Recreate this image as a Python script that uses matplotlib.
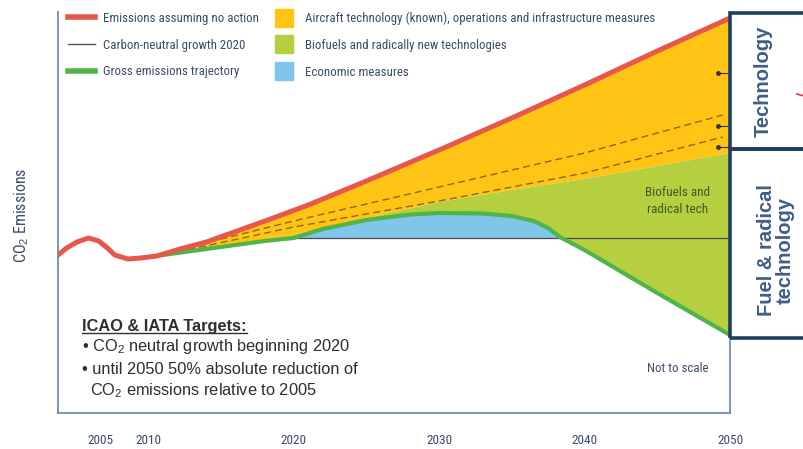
import numpy as np
import matplotlib
matplotlib.use("Agg")
import matplotlib.pyplot as plt
from matplotlib.lines import Line2D
from matplotlib.patches import Rectangle

plt.rcParams['font.family'] = ['Roboto Condensed', 'DejaVu Sans']
plt.rcParams['mathtext.fontset'] = 'custom'
plt.rcParams['mathtext.rm'] = 'Liberation Sans'

# schematic data (arbitrary CO2 units)
years_red = [2003.8, 2004.4, 2005.1, 2005.9, 2006.6, 2007.2, 2007.7, 2008.6, 2009.5,
             2010.6, 2012.2, 2014, 2016.3, 2018.6, 2021, 2025, 2030, 2035, 2040, 2045, 2050]
no_action = [158, 165, 171, 175, 172, 165, 158, 154, 155,
             157, 164, 171, 183, 195, 208, 232, 263, 295, 328, 362, 395]

years_bound = [2010, 2015, 2020, 2025, 2030, 2035, 2040, 2045, 2050]
tech_bound = [156, 167, 178, 195, 211, 223, 234, 247, 260]

years_gross = [2010, 2012, 2015, 2018, 2020, 2022, 2025, 2028, 2030, 2033, 2035,
               2036.5, 2037.5, 2038.3, 2040, 2045, 2050]
gross = [156, 160, 166, 172, 175, 184, 193, 198.5, 200, 199.5, 197,
         192, 185, 176, 163, 120, 78]

years_dash = [2012, 2020, 2030, 2040, 2049.5]
dash_upper = [163, 192, 226, 260, 298]
dash_lower = [161, 186, 212, 240, 276]

neutral_years = [2020, 2050]
neutral_level = 175

pointer_levels = [340, 287, 266]

tick_pos = [2006.7, 2010, 2020, 2030, 2040, 2050]
tick_labels = ['2005', '2010', '2020', '2030', '2040', '2050']

RED = '#e8574c'
ORANGE = '#ffc414'
LGREEN = '#b5cf3f'
BLUE = '#80c5ea'
GREEN = '#4fb54a'
TXT = '#3a4c6c'
SPINE = '#6a8db6'
NAVY = '#1d3d62'

fig = plt.figure(figsize=(8.04, 4.49), dpi=100)
ax = fig.add_axes([58 / 804, 1 - 413 / 449, 672 / 804, 401 / 449])
ax.set_xlim(2003.8, 2050)
ax.set_ylim(0, 401)

yr = np.array(years_red)
nr = np.array(no_action)
mask = yr >= 2010
ax.fill(np.concatenate([[2010], yr[mask], years_bound[::-1]]),
        np.concatenate([[156], nr[mask], tech_bound[::-1]]),
        color=ORANGE, lw=0, zorder=1)
ax.fill(np.concatenate([years_bound, years_gross[::-1]]),
        np.concatenate([tech_bound, gross[::-1]]),
        color=LGREEN, lw=0, zorder=1)
g = np.array(gross)
gy = np.array(years_gross)
ax.fill_between(gy, g, neutral_level, where=(gy >= 2020) & (g >= neutral_level),
                interpolate=True, color=BLUE, lw=0, zorder=2)

ax.plot(years_dash, dash_upper, color='#8a6a18', lw=1, ls=(0, (5, 3)), zorder=3)
ax.plot(years_dash, dash_lower, color='#8a6a18', lw=1, ls=(0, (5, 3)), zorder=3)
ax.plot(neutral_years, [neutral_level] * 2, color='#4a4a4a', lw=0.9, zorder=4)
ax.plot(years_gross, gross, color=GREEN, lw=3, zorder=5, solid_capstyle='round',
        solid_joinstyle='round')
ax.plot(years_red, no_action, color=RED, lw=3.6, zorder=6, solid_capstyle='round',
        solid_joinstyle='round')

for lv in pointer_levels:
    ax.plot([2049.2, 2050], [lv, lv], color='#333333', lw=0.8, zorder=6)
    ax.plot([2049.2], [lv], 'o', color='#333333', ms=2.5, zorder=6)

ax.spines['top'].set_visible(False)
for side in ['left', 'bottom', 'right']:
    ax.spines[side].set_color(SPINE)
    ax.spines[side].set_linewidth(1.3)
ax.set_yticks([])
ax.set_xticks(tick_pos)
ax.set_xticklabels(tick_labels, color=TXT, fontsize=9.5)
ax.tick_params(axis='x', length=0, pad=15)

fig.text(22 / 804, 1 - 215 / 449, 'CO$_2$ Emissions', rotation=90, ha='center',
         va='center', color=TXT, fontsize=11.5)

# legend
h1 = [Line2D([], [], color=RED, lw=4),
      Line2D([], [], color='#555555', lw=1),
      Line2D([], [], color=GREEN, lw=4)]
l1 = ['Emissions assuming no action', 'Carbon-neutral growth 2020', 'Gross emissions trajectory']
h2 = [Line2D([], [], marker='s', ms=13, color=c, ls='none') for c in (ORANGE, LGREEN, BLUE)]
l2 = ['Aircraft technology (known), operations and infrastructure measures',
      'Biofuels and radically new technologies', 'Economic measures']
leg1 = ax.legend(h1, l1, loc='upper left', bbox_to_anchor=(10 / 672, 1.0),
                 frameon=False, fontsize=9.3, handlelength=2.1, handletextpad=0.6,
                 labelspacing=1.05, borderpad=0, borderaxespad=0, labelcolor=TXT)
ax.add_artist(leg1)
ax.legend(h2, l2, loc='upper left', bbox_to_anchor=(212 / 672, 1.0),
          frameon=False, fontsize=9.3, handlelength=2.1, handletextpad=0.6,
          labelspacing=1.05, borderpad=0, borderaxespad=0, labelcolor=TXT)

# targets text
kw = dict(transform=fig.transFigure, family='Liberation Sans', color='#2e2e2e', va='center')
t = fig.text(82 / 804, 1 - 326 / 449, 'ICAO & IATA Targets:', fontsize=11.8,
             weight='bold', **kw)
fig.text(82 / 804, 1 - 347 / 449, '• CO$_2$ neutral growth beginning 2020', fontsize=11.8, **kw)
fig.text(82 / 804, 1 - 369 / 449, '• until 2050 50% absolute reduction of', fontsize=11.8, **kw)
fig.text(90 / 804, 1 - 391 / 449, 'CO$_2$ emissions relative to 2005', fontsize=11.8, **kw)
fig.canvas.draw()
bb = t.get_window_extent().transformed(fig.transFigure.inverted())
fig.add_artist(Line2D([bb.x0, bb.x1], [bb.y0 + 0.002, bb.y0 + 0.002],
                      color='#2e2e2e', lw=1, transform=fig.transFigure))

ax.text(2046.4, 212, 'Biofuels and\nradical tech', ha='center', va='center',
        color='#3d5a28', fontsize=9.5, linespacing=1.45, zorder=7)
ax.text(2046.4, 45, 'Not to scale', ha='center', va='center', color=TXT, fontsize=9.3)

# boxes on the right
for y0, y1 in [(13, 149), (149, 338)]:
    fig.add_artist(Rectangle((730 / 804, 1 - y1 / 449), 0.2, (y1 - y0) / 449,
                             transform=fig.transFigure, fill=False, ec=NAVY, lw=2.6,
                             clip_on=False))
fig.text(763 / 804, 1 - 81 / 449, 'Technology', rotation=90, ha='center', va='center',
         family='Liberation Sans', weight='bold', fontsize=14.5, color='#3f5d88')
fig.text(776 / 804, 1 - 250 / 449, 'Fuel & radical\ntechnology', rotation=90, ha='center',
         va='center', family='Liberation Sans', weight='bold', fontsize=14.5,
         color='#3f5d88', linespacing=0.95, multialignment='center')
fig.add_artist(Line2D([797 / 804, 1], [1 - 94 / 449, 1 - 96 / 449], color='#e83030',
                      lw=1.2, transform=fig.transFigure))

fig.savefig('out.png', dpi=100)
